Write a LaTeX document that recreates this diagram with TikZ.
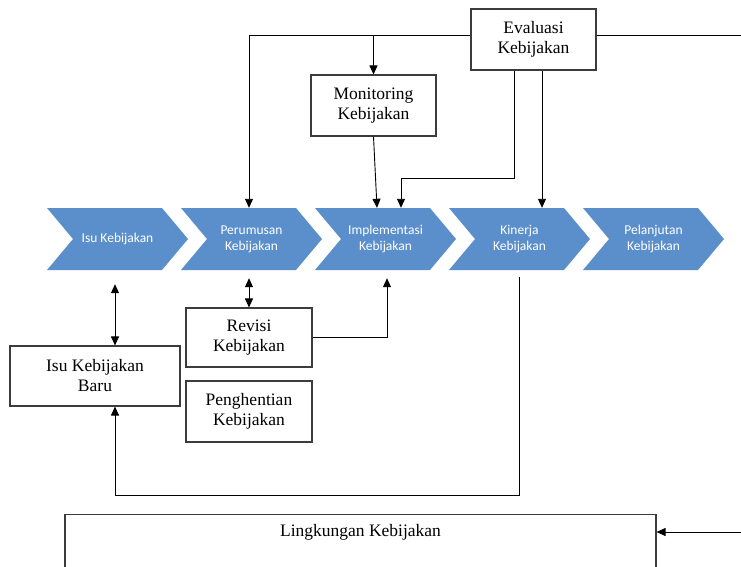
\documentclass[tikz,border=0pt]{standalone}
\usepackage{fontspec}
\setmainfont{Liberation Serif}
\newfontfamily\chevfont{Carlito}
\usetikzlibrary{arrows.meta}
\definecolor{chevblue}{RGB}{91,143,204}
\definecolor{boxline}{RGB}{60,60,60}
\tikzset{
  chevshape/.style={fill=chevblue},
  chevtext/.style={text=white, font=\chevfont\fontsize{13.5}{16}\selectfont,
    align=center, minimum width=90pt, minimum height=62pt, inner sep=0pt},
  stagebox/.style={draw=boxline, line width=1.1pt, fill=white, align=center,
    font=\fontsize{17.5}{20}\selectfont, inner sep=0pt},
  arr/.style={draw=black, line width=0.9pt, -{Triangle[length=9pt,width=8pt]}},
  darr/.style={draw=black, line width=0.9pt,
    {Triangle[length=9pt,width=8pt]}-{Triangle[length=9pt,width=8pt]}},
  link/.style={draw=black, line width=0.9pt},
}
% one chevron of the process band: #1 name, #2 left edge, #3 label
\newcommand{\chevron}[3]{%
  \fill[chevshape] (#2,208) -- ++(115,0) -- ++(26,31) -- ++(-26,31)
    -- ++(-115,0) -- ++(26,-31) -- cycle;
  \node[chevtext] (#1) at (#2+70.5,239) {#3};
}
\begin{document}
\begin{tikzpicture}[x=1pt,y=-1pt]
\path[use as bounding box, clip] (0,0) rectangle (741,566);
\fill[white] (0,0) rectangle (741,566);

% process band
\chevron{c1}{47}{Isu Kebijakan}
\chevron{c2}{181}{Perumusan\\Kebijakan}
\chevron{c3}{315}{Implementasi\\Kebijakan}
\chevron{c4}{449}{Kinerja\\Kebijakan}
\chevron{c5}{583}{Pelanjutan\\Kebijakan}

% boxes
\node[stagebox, minimum width=125pt, minimum height=61pt] (ev) at (533.5,39.5) {Evaluasi\\Kebijakan};
\node[stagebox, minimum width=125pt, minimum height=61pt] (mon) at (373.5,105.5) {Monitoring\\Kebijakan};
\node[stagebox, minimum width=170pt, minimum height=60pt] (ib) at (95,376) {Isu Kebijakan\\Baru};
\node[stagebox, minimum width=126pt, minimum height=59pt] (rev) at (249,337.5) {Revisi\\Kebijakan};
\node[stagebox, minimum width=126pt, minimum height=61pt] (stop) at (249,411.5) {Penghentian\\Kebijakan};
\node[stagebox, minimum width=591pt, minimum height=110pt, anchor=north] (lk) at (360.5,514) {};
\node[font=\fontsize{17.5}{20}\selectfont] (lkt) at (360.5,532) {Lingkungan Kebijakan};

% coordinates at the page edge and routing levels
\coordinate (topline) at ([yshift=4.5pt]ev.west);
\coordinate (rtop) at (741,35);
\coordinate (rbot) at (741,532);
\coordinate (evbend) at (0,178);
\coordinate (botline) at (0,488);

% feedback from evaluation
\draw[arr] (topline) -| ([xshift=-2.5pt]c2.north);
\draw[arr] (mon.north |- topline) -- (mon.north);
\draw[link] ([yshift=4.5pt]ev.east) -- (rtop);
\draw[arr] (mon.south) -- ([xshift=-8.5pt]c3.north);
\draw[arr] ([xshift=-19.5pt]ev.south) -- ([xshift=-19.5pt]ev.south |- evbend)
  -| ([xshift=15.5pt]c3.north);
\draw[arr] ([xshift=8.5pt]ev.south) -- ([xshift=8.5pt]ev.south |- c4.north);

% links below the band
\draw[darr, shorten <=14pt] ([xshift=-2.5pt]c1.south) -- ([xshift=-2.5pt]c1.south |- ib.north);
\draw[darr, shorten <=8pt] (rev.north |- c2.south) -- (rev.north);
\draw[arr, shorten >=8pt] (rev.east) -| ([xshift=1.5pt]c3.south);
\draw[arr] ([yshift=-7pt]c4.south) -- ([yshift=-7pt]c4.south |- botline)
  -| ([xshift=20pt]ib.south);

% environment
\draw[arr] (rbot) -- (lk.east |- rbot);
\end{tikzpicture}
\end{document}
